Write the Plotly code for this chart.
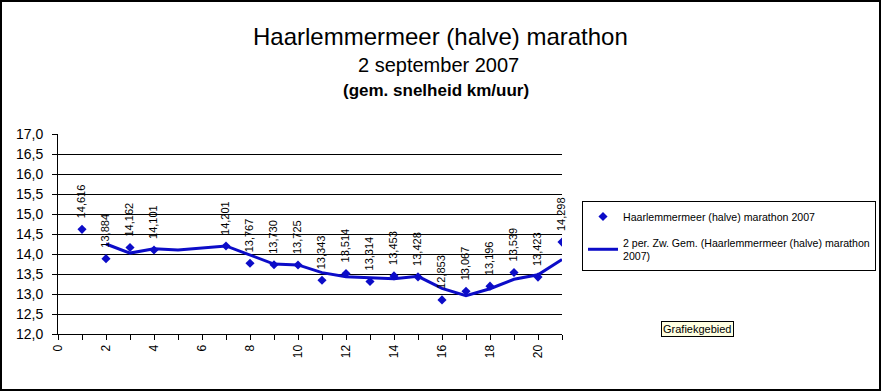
import plotly.graph_objects as go

# ---- data ----
km = [1, 2, 3, 4, 7, 8, 9, 10, 11, 12, 13, 14, 15, 16, 17, 18, 19, 20, 21]
speed = [14.616, 13.884, 14.162, 14.101, 14.201, 13.767, 13.730, 13.725, 13.343,
         13.514, 13.314, 13.453, 13.428, 12.853, 13.067, 13.196, 13.539, 13.423, 14.298]
trend_x = [2, 3, 4, 5, 7, 8, 9, 10, 11, 12, 13, 14, 15, 16, 17, 18, 19, 20, 21]
trend_y = [14.250, 14.023, 14.132, 14.101, 14.201, 13.984, 13.749, 13.728, 13.534,
           13.429, 13.414, 13.384, 13.441, 13.141, 12.960, 13.132, 13.368, 13.481, 13.861]
x_ticks = list(range(0, 22))
x_ticktext = [str(v) if v % 2 == 0 else "" for v in x_ticks]
y_ticks = [12 + 0.5 * i for i in range(11)]

series_name = "Haarlemmermeer (halve) marathon 2007"
trend_name = "2 per. Zw. Gem. (Haarlemmermeer (halve) marathon<br>2007)"

W, H = 882, 392
L, R, T, B = 58, 562, 134, 334  # plot area pixels

def px(x):
    return (x - L) / (R - L)

def py(y):
    return (B - y) / (B - T)

BLUE = "#0c0cc8"
FONT = "Liberation Sans, Arial, sans-serif"

fig = go.Figure()
fig.add_trace(go.Scatter(x=km, y=speed, mode="markers", name=series_name, legendgroup="a",
                         marker=dict(symbol="diamond", size=7, color=BLUE)))
fig.add_trace(go.Scatter(x=trend_x, y=trend_y, mode="lines", name=trend_name, legendgroup="b",
                         line=dict(color=BLUE, width=3)))

annotations = []
for x, y in zip(km, speed):
    annotations.append(dict(x=x, y=y, xref="x", yref="y", text=f"{y:.3f}".replace(".", ","),
                            showarrow=False, textangle=-90, xanchor="center", yanchor="bottom",
                            yshift=9, xshift=-1, font=dict(size=11, color="black", family=FONT)))

annotations += [
    dict(x=px(440), y=py(37), xref="paper", yref="paper",
         text="Haarlemmermeer (halve) marathon", showarrow=False,
         xanchor="center", yanchor="middle", font=dict(size=24, color="black", family=FONT)),
    dict(x=px(438), y=py(65), xref="paper", yref="paper", text="2 september 2007",
         showarrow=False, xanchor="center", yanchor="middle",
         font=dict(size=20, color="black", family=FONT)),
    dict(x=px(436), y=py(90), xref="paper", yref="paper", text="<b>(gem. snelheid km/uur)</b>",
         showarrow=False, xanchor="center", yanchor="middle",
         font=dict(size=17, color="black", family=FONT)),
    dict(x=px(697), y=py(329), xref="paper", yref="paper", text="Grafiekgebied",
         showarrow=False, xanchor="center", yanchor="middle", bgcolor="#ffffe1",
         bordercolor="black", borderwidth=1, borderpad=1,
         font=dict(size=11, color="black", family=FONT)),
]

shapes = [
    dict(type="rect", xref="paper", yref="paper", x0=px(1), x1=px(880), y0=py(1), y1=py(390),
         line=dict(color="black", width=2), fillcolor="rgba(0,0,0,0)", layer="below"),
]

fig.update_layout(
    width=W, height=H, autosize=False,
    margin=dict(l=L, r=W - R, t=T, b=H - B, pad=0, autoexpand=False),
    paper_bgcolor="white", plot_bgcolor="white",
    separators=",.",
    font=dict(family=FONT, color="black"),
    showlegend=True,
    legend=dict(x=px(582), y=py(201), xanchor="left", yanchor="top",
                bordercolor="black", borderwidth=1, bgcolor="white",
                font=dict(size=10.6, family=FONT, color="black"),
                itemwidth=30, tracegroupgap=8),
    annotations=annotations,
    shapes=shapes,
    xaxis=dict(range=[0, 21], tickvals=x_ticks, ticktext=x_ticktext, tickangle=-90,
               ticks="outside", ticklen=5, tickcolor="black", showline=True,
               linecolor="black", linewidth=1, showgrid=False, zeroline=False,
               automargin=False,
               tickfont=dict(size=12, family=FONT, color="black")),
    yaxis=dict(range=[12, 17], tickvals=y_ticks, tickformat=".1f", ticks="outside",
               ticklen=5, tickcolor="black", showline=True, linecolor="black", linewidth=1,
               showgrid=True, gridcolor="black", gridwidth=1, zeroline=False,
               automargin=False, ticklabelstandoff=6,
               tickfont=dict(size=14, family=FONT, color="black")),
)

fig.write_html("out.html", config={"displayModeBar": False},
               post_script="document.body.style.margin='0';document.body.style.overflow='hidden';")
